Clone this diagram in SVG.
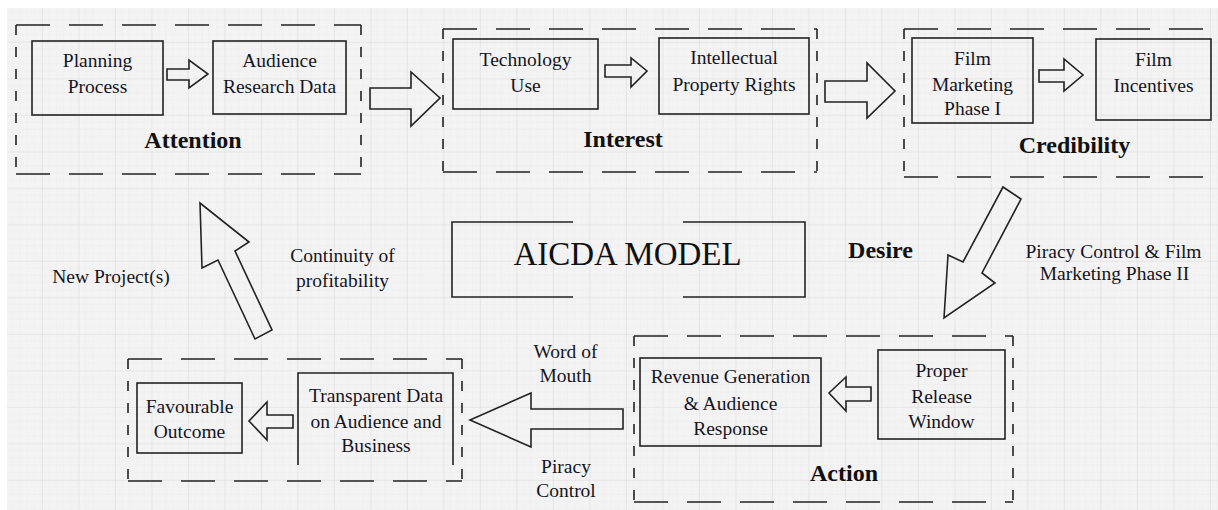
<svg xmlns="http://www.w3.org/2000/svg" width="1218" height="510" viewBox="0 0 1218 510">
<defs>
<pattern id="minor" x="6.5" y="6.5" width="7.3" height="7.3" patternUnits="userSpaceOnUse">
<path d="M7.3 0V7.3M0 7.3H7.3" fill="none" stroke="#e9e9e9" stroke-width="0.8"/>
</pattern>
<pattern id="major" x="6.5" y="6.5" width="36.5" height="36.5" patternUnits="userSpaceOnUse">
<rect width="36.5" height="36.5" fill="url(#minor)"/>
<path d="M36.5 0V36.5M0 36.5H36.5" fill="none" stroke="#dfdfdf" stroke-width="1.2"/>
</pattern>
<style>
.t{font-family:"Liberation Serif","Times New Roman",serif;font-size:19.5px;fill:#15151f;text-anchor:middle}
.b{font-family:"Liberation Serif","Times New Roman",serif;font-size:24px;font-weight:bold;fill:#111;text-anchor:middle}
.box{fill:none;stroke:#222;stroke-width:1.6}
.dh{fill:none;stroke:#222;stroke-width:1.6;stroke-dasharray:34 19}
.dv{fill:none;stroke:#222;stroke-width:1.6;stroke-dasharray:10 12}
.arr{fill:none;stroke:#222;stroke-width:1.6;stroke-linejoin:miter}
</style>
</defs>
<rect width="1218" height="510" fill="#ffffff"/>
<rect x="7" y="8" width="1211" height="502" fill="#f3f3f3"/>
<rect x="7" y="8" width="1211" height="502" fill="url(#major)"/>

<g id="stage-attention">
<path class="dh" d="M16 25H361M16 174H361"/>
<path class="dv" d="M16 25V174M361 25V174"/>
<text class="b" x="193" y="148">Attention</text>
</g>
<g id="node-planning">
<rect class="box" x="32" y="41" width="131" height="74"/>
<text class="t" x="97.5" y="67">Planning</text>
<text class="t" x="97.5" y="93">Process</text>
</g>
<g id="node-audience">
<rect class="box" x="213" y="41" width="133" height="73"/>
<text class="t" x="279.5" y="67">Audience</text>
<text class="t" x="279.5" y="93">Research Data</text>
</g>

<g id="stage-interest">
<path class="dh" d="M443 29H817M443 172H817"/>
<path class="dv" d="M443 29V172M817 29V172"/>
<text class="b" x="623" y="147">Interest</text>
</g>
<g id="node-technology">
<rect class="box" x="453" y="39" width="145" height="70"/>
<text class="t" x="525.5" y="66">Technology</text>
<text class="t" x="525.5" y="92">Use</text>
</g>
<g id="node-ipr">
<rect class="box" x="659" y="38" width="150" height="76"/>
<text class="t" x="734" y="64">Intellectual</text>
<text class="t" x="734" y="91">Property Rights</text>
</g>

<g id="stage-credibility">
<path class="dh" d="M904 29H1222M904 177H1222"/>
<path class="dv" d="M904 29V177"/>
<text class="b" x="1074.5" y="153">Credibility</text>
</g>
<g id="node-fmp1">
<rect class="box" x="912" y="38" width="121" height="85"/>
<text class="t" x="972.5" y="65">Film</text>
<text class="t" x="972.5" y="91">Marketing</text>
<text class="t" x="972.5" y="115">Phase I</text>
</g>
<g id="node-incentives">
<rect class="box" x="1096" y="39" width="115" height="81"/>
<text class="t" x="1153.5" y="66">Film</text>
<text class="t" x="1153.5" y="92">Incentives</text>
</g>

<g id="label-desire">
<text class="b" x="880.5" y="258">Desire</text>
<text class="t" x="1113.5" y="258">Piracy Control &amp; Film</text>
<text class="t" x="1114.5" y="280">Marketing Phase II</text>
</g>

<g id="title">
<path class="box" d="M573 222H452V297H573M683 222H805V297H683"/>
<text x="627.5" y="265" style="font-family:'Liberation Serif','Times New Roman',serif;font-size:33px;fill:#111;text-anchor:middle">AICDA MODEL</text>
</g>

<g id="stage-action">
<path class="dh" d="M634 336H1013M634 502H1013"/>
<path class="dv" d="M634 336V502M1013 336V502"/>
<text class="b" x="844" y="481">Action</text>
</g>
<g id="node-revenue">
<rect class="box" x="640" y="358" width="181" height="88"/>
<text class="t" x="730.5" y="383">Revenue Generation</text>
<text class="t" x="730.5" y="410">&amp; Audience</text>
<text class="t" x="730.5" y="435">Response</text>
</g>
<g id="node-release">
<rect class="box" x="878" y="350" width="127" height="89"/>
<text class="t" x="941.5" y="377">Proper</text>
<text class="t" x="941.5" y="403">Release</text>
<text class="t" x="941.5" y="428">Window</text>
</g>

<g id="stage-outcome">
<path class="dh" d="M128 359H462M128 481H462"/>
<path class="dv" d="M128 359V481M462 359V481"/>
</g>
<g id="node-favourable">
<rect class="box" x="137" y="383" width="105" height="70"/>
<text class="t" x="189.5" y="413">Favourable</text>
<text class="t" x="189.5" y="438">Outcome</text>
</g>
<g id="node-transparent">
<path class="box" d="M298 465V373H453V465"/>
<text class="t" x="376" y="402">Transparent Data</text>
<text class="t" x="376" y="428">on Audience and</text>
<text class="t" x="376" y="452">Business</text>
</g>

<g id="labels-loop">
<text class="t" x="111" y="283">New Project(s)</text>
<text class="t" x="342.5" y="262">Continuity of</text>
<text class="t" x="342.5" y="287">profitability</text>
<text class="t" x="565.5" y="358">Word of</text>
<text class="t" x="565.5" y="382">Mouth</text>
<text class="t" x="566" y="473">Piracy</text>
<text class="t" x="566" y="497">Control</text>
</g>

<g id="connectors">
<polygon class="arr" points="167,69 189,69 189,60 208,74 189,88 189,80 167,80"/>
<polygon class="arr" points="370,88 411,88 411,72 440,98 411,126 411,109 370,109"/>
<polygon class="arr" points="605,65 631,65 631,58 647,71 631,87 631,77 605,77"/>
<polygon class="arr" points="825,81 867,81 867,63 895,91 867,118 867,102 825,102"/>
<polygon class="arr" points="1039,70 1064,70 1064,59 1083,75 1064,91 1064,82 1039,82"/>
<polygon class="arr" points="944,318 948,255 963,262 1003,187 1021,199 982,273 995,283"/>
<polygon class="arr" points="871,387 846,387 846,377 829,393 846,411 846,401 871,401"/>
<polygon class="arr" points="623,409 531,409 531,393 470,420 531,447 531,429 623,429"/>
<polygon class="arr" points="293,415 267,415 267,402 249,421 267,440 267,428 293,428"/>
<polygon class="arr" points="200,203 202,268 218,260 255,339 272,330 235,251 249,242"/>
</g>
</svg>
